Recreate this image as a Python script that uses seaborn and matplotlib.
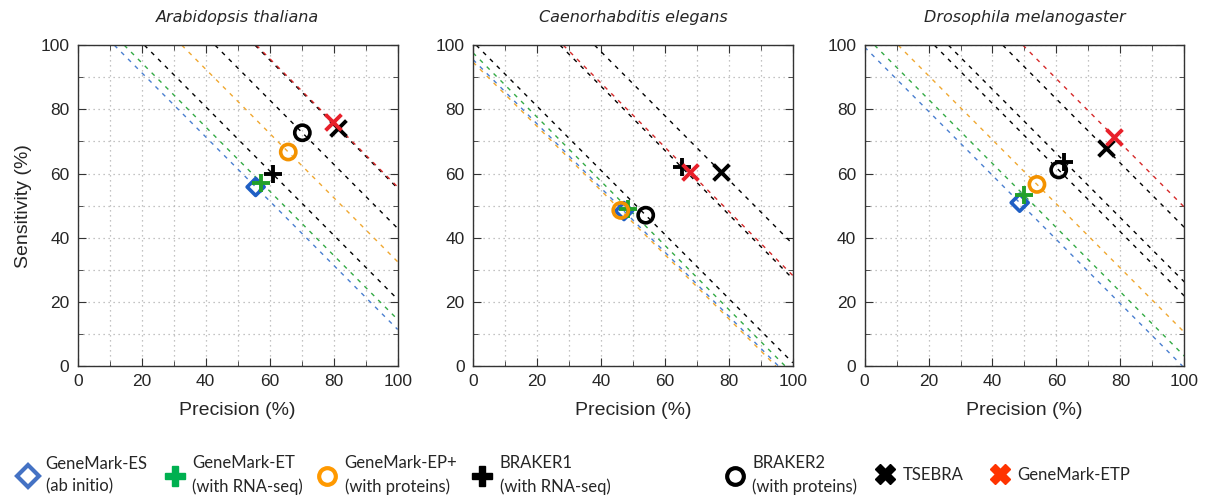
import matplotlib
matplotlib.use("Agg")
import matplotlib.pyplot as plt
from matplotlib.lines import Line2D
from matplotlib.ticker import MultipleLocator
import seaborn as sns

# precision / sensitivity (%)
tools = ["GeneMark-ES", "GeneMark-ET", "GeneMark-EP+", "BRAKER1",
         "BRAKER2", "TSEBRA", "GeneMark-ETP"]
legend_labels = ["GeneMark-ES\n(ab initio)", "GeneMark-ET\n(with RNA-seq)",
                 "GeneMark-EP+\n(with proteins)", "BRAKER1\n(with RNA-seq)",
                 "BRAKER2\n(with proteins)", "TSEBRA", "GeneMark-ETP"]
species = ["Arabidopsis thaliana", "Caenorhabditis elegans", "Drosophila melanogaster"]

precision_at = [55.6, 57.4, 65.8, 61.0, 70.2, 81.3, 79.8]
sensitivity_at = [55.8, 57.1, 66.7, 59.8, 72.7, 74.1, 76.0]
precision_ce = [47.2, 48.6, 46.2, 65.3, 54.0, 77.5, 67.7]
sensitivity_ce = [48.3, 49.0, 48.5, 61.9, 47.0, 60.5, 60.5]
precision_dm = [48.5, 49.7, 53.9, 62.5, 60.7, 75.4, 78.0]
sensitivity_dm = [50.9, 53.4, 56.6, 63.7, 61.1, 67.8, 71.5]

prec = [precision_at, precision_ce, precision_dm]
sens = [sensitivity_at, sensitivity_ce, sensitivity_dm]

# styles
mark_col = ["#1f5fc4", "#22a02a", "#f39200", "black", "black", "black", "#e8202a"]
line_col = ["#4a7fd0", "#33aa44", "#f0a830", "black", "black", "black", "#d62a2a"]
leg_col = ["#4472c4", "#00b050", "#ff9900", "black", "black", "black", "#ff3300"]
markers = ["D", "+", "o", "+", "o", "x", "x"]
leg_markers = ["D", "P", "o", "P", "o", "X", "X"]
is_open = [True, False, True, False, True, False, False]
sizes = [75, 150, 120, 150, 120, 130, 130]
leg_x = [28, 175, 327, 482, 735, 885, 1000]   # marker centres, px

sns.set_style("white")
plt.rcParams["font.family"] = ["DejaVu Sans"]

fig = plt.figure(figsize=(12.16, 4.99), dpi=100)
lefts = [0.064, 0.389, 0.711]
axes = [fig.add_axes([l, 0.2665, 0.263, 0.643]) for l in lefts]

for k, ax in enumerate(axes):
    for i in range(len(tools)):
        ax.axline((prec[k][i], sens[k][i]), slope=-1, color=line_col[i],
                  lw=1.0, ls=(0, (3, 4)), zorder=1)
    for i in range(len(tools)):
        kw = dict(marker=markers[i], s=sizes[i], zorder=3, ax=ax)
        if is_open[i]:
            kw.update(color=mark_col[i], facecolor="none", edgecolor=mark_col[i],
                      linewidth=2.6)
        else:
            kw.update(color=mark_col[i], linewidth=2.8)
        sns.scatterplot(x=[prec[k][i]], y=[sens[k][i]], **kw)

    ax.set_xlim(0, 100)
    ax.set_ylim(0, 100)
    ax.xaxis.set_major_locator(MultipleLocator(20))
    ax.yaxis.set_major_locator(MultipleLocator(20))
    ax.xaxis.set_minor_locator(MultipleLocator(10))
    ax.yaxis.set_minor_locator(MultipleLocator(10))
    ax.grid(True, which="both", color="#b0b0b0", ls=(0, (1, 3)), lw=0.9)
    ax.tick_params(which="both", direction="in", top=True, right=True,
                   bottom=True, left=True, color="#333333")
    ax.tick_params(which="major", length=6, labelsize=12.5, pad=6)
    ax.tick_params(which="minor", length=3.5)
    for lab in ax.get_xticklabels() + ax.get_yticklabels():
        lab.set_family("Liberation Sans")
    for sp in ax.spines.values():
        sp.set_color("#333333")
        sp.set_linewidth(1.0)
    ax.set_title(species[k], style="italic", fontsize=11.5, pad=17)
    ax.set_xlabel("Precision (%)", fontsize=14, family="Liberation Sans", labelpad=9)
    if k == 0:
        ax.set_ylabel("Sensitivity (%)", fontsize=14, family="Liberation Sans",
                      labelpad=6)

fs = 12
for i in range(len(tools)):
    if is_open[i]:
        h = Line2D([], [], ls="none", marker=leg_markers[i], mfc="none",
                   mec=leg_col[i], mew=3, ms=12 if leg_markers[i] == "o" else 11)
    else:
        h = Line2D([], [], ls="none", marker=leg_markers[i], color=leg_col[i],
                   mec=leg_col[i], ms=15)
    x0 = (leg_x[i] - 0.6 * fs * 100 / 72) / 1216
    leg = fig.legend([h], [legend_labels[i]], loc="center left",
                     bbox_to_anchor=(x0, 0.048), frameon=False, borderpad=0,
                     borderaxespad=0, prop={"family": "Lato", "size": fs},
                     handletextpad=0.45, handlelength=1.2)
    for t in leg.get_texts():
        t.set_linespacing(1.5)

fig.savefig("out.png", dpi=100)
